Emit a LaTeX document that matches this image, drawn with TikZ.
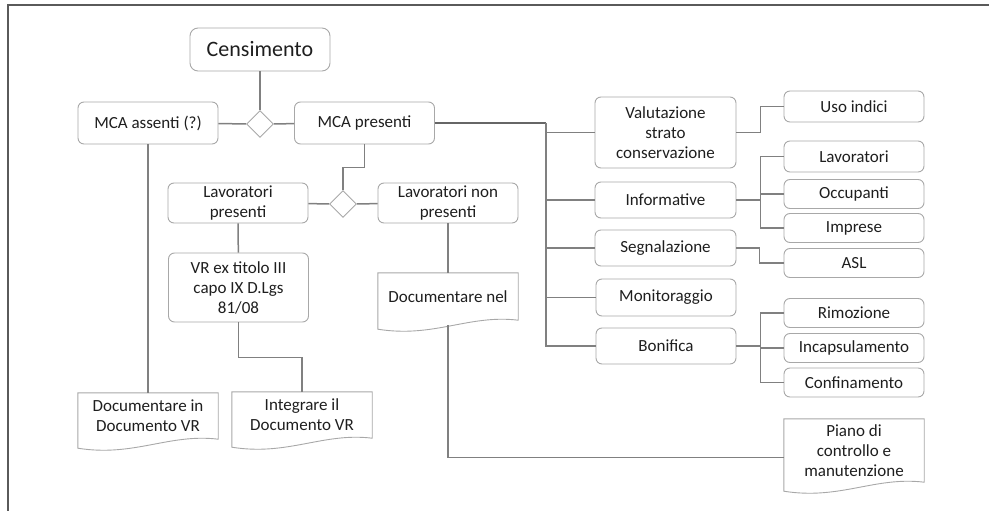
\documentclass[tikz,border=0pt]{standalone}
\usepackage{fontspec}
\setmainfont{Carlito}
\usepackage{tikz}
\usetikzlibrary{calc, shapes.geometric}
\definecolor{boxgray}{HTML}{A8A8A8}
\definecolor{linkgray}{HTML}{808080}
\definecolor{framegray}{HTML}{5A5A5A}
\definecolor{txtcol}{HTML}{1E1E1E}
\newcommand{\docoutline}[1]{%
  \draw[docline] (#1.north west) -- (#1.north east) -- (#1.south east)
    .. controls ($(#1.south east)!0.35!(#1.south west)+(0,-6)$)
       and ($(#1.south west)!0.4!(#1.south east)+(0,18)$)
    .. ($(#1.south west)+(0,9)$) -- cycle;}

\begin{document}
\begin{tikzpicture}[
    x=1pt, y=-1pt,
    box/.style={draw=boxgray, line width=0.9pt, rounded corners=6pt,
                minimum width=140pt, minimum height=36pt, inner sep=0pt,
                align=center, text=txtcol, font=\fontsize{17}{20}\selectfont},
    small/.style={box, minimum height=29pt},
    doc/.style={minimum width=140pt, inner sep=0pt, align=center,
                text=txtcol, font=\fontsize{17}{20}\selectfont},
    docline/.style={draw=boxgray, line width=0.9pt},
    dec/.style={diamond, draw=boxgray, line width=0.9pt,
                minimum width=27pt, minimum height=27pt, inner sep=0pt},
    link/.style={draw=linkgray, line width=1.5pt},
    trunk/.style={draw=linkgray!80!black, line width=2.6pt},
    frame/.style={draw=framegray, line width=2pt},
]
\useasboundingbox (0,0) rectangle (989,511);
\draw[frame] (8,511) -- (8,5) -- (989,5);

\node[box, rounded corners=8pt, minimum height=43pt,
      font=\fontsize{22}{26}\selectfont] (cens) at (260,49.5) {Censimento};
\node[dec] (d1) at (260,124) {};
\node[box, minimum height=42pt] (mcaass) at (148,123) {MCA assenti (?)};
\node[box, minimum height=42pt] (mcapres) at (364.5,123) {MCA presenti};
\node[dec] (d2) at (343,204) {};
\node[box, minimum height=40pt] (lavpres) at (238,203) {Lavoratori\\presenti};
\node[box, minimum height=40pt] (lavnon) at (448,203) {Lavoratori non\\presenti};
\node[box, minimum height=69pt] (vr) at (238.5,287.5) {VR ex titolo III\\capo IX D.Lgs\\81/08};

\node[doc, minimum height=46pt] (docin) at (148,416) {Documentare in\\Documento VR};
\node[doc, minimum height=46pt] (integ) at (302,415) {Integrare il\\Documento VR};
\node[doc, minimum height=47pt] (docnel) at (448,296.5) {Documentare nel};
\node[doc, minimum height=63pt] (piano) at (854,450.5) {Piano di\\controllo e\\manutenzione};
\foreach \d in {docin, integ, docnel, piano} {
    \docoutline{\d}
}

\node[box, minimum width=141pt, minimum height=71pt] (valut) at (665.5,132.5) {Valutazione\\strato\\conservazione};
\node[box, minimum width=141pt] (inform) at (665.5,200) {Informative};
\node[box, minimum width=141pt] (segn) at (665.5,248) {Segnalazione};
\node[box, minimum height=37pt] (monit) at (666,297.5) {Monitoraggio};
\node[box] (bonif) at (666,346) {Bonifica};

\node[small, minimum height=31pt] (usoind) at (854,106.5) {Uso indici};
\node[small, minimum height=31pt] (lavr) at (854,156.5) {Lavoratori};
\node[small] (occup) at (854,194) {Occupanti};
\node[small] (impr) at (854,228) {Imprese};
\node[small] (asl) at (854,263) {ASL};
\node[small] (rimoz) at (854,313) {Rimozione};
\node[small] (incaps) at (854,348) {Incapsulamento};
\node[small] (confin) at (854,382.5) {Confinamento};

\draw[link] (cens) -- (d1);
\draw[link] (mcaass) -- (d1);
\draw[link] (d1) -- (mcapres);
\draw[link] (mcapres.south) -- ++(0,23) -| (d2.north);
\draw[link] (lavpres) -- (d2);
\draw[link] (d2) -- (lavnon);
\draw[link] (lavpres) -- (vr);
\draw[link] (vr.south) -- ++(0,35) -| (integ.north);
\draw[link] (mcaass.south) -- (docin.north);
\draw[link] (lavnon.south) -- (docnel.north);
\draw[link] ($(docnel.south)+(0,5)$) |- ($(piano.west)+(0,7)$);

\coordinate (tk) at (546,123);
\draw[trunk] (mcapres.east) -- (tk);
\draw[link] (tk) |- (bonif.west);
\foreach \b in {valut, inform, segn, monit} {
    \draw[link] (tk |- \b.west) -- (\b.west);
}
\draw[link] (valut.east) -- ++(24,0) |- (usoind.west);
\draw[link] (segn.east) -- ++(23,0) |- (asl.west);
\foreach \src/\dst in {inform/lavr, inform/occup, inform/impr,
                       bonif/rimoz, bonif/incaps, bonif/confin} {
    \draw[link] (\src.east) -- ++(24,0) |- (\dst.west);
}
\end{tikzpicture}
\end{document}
